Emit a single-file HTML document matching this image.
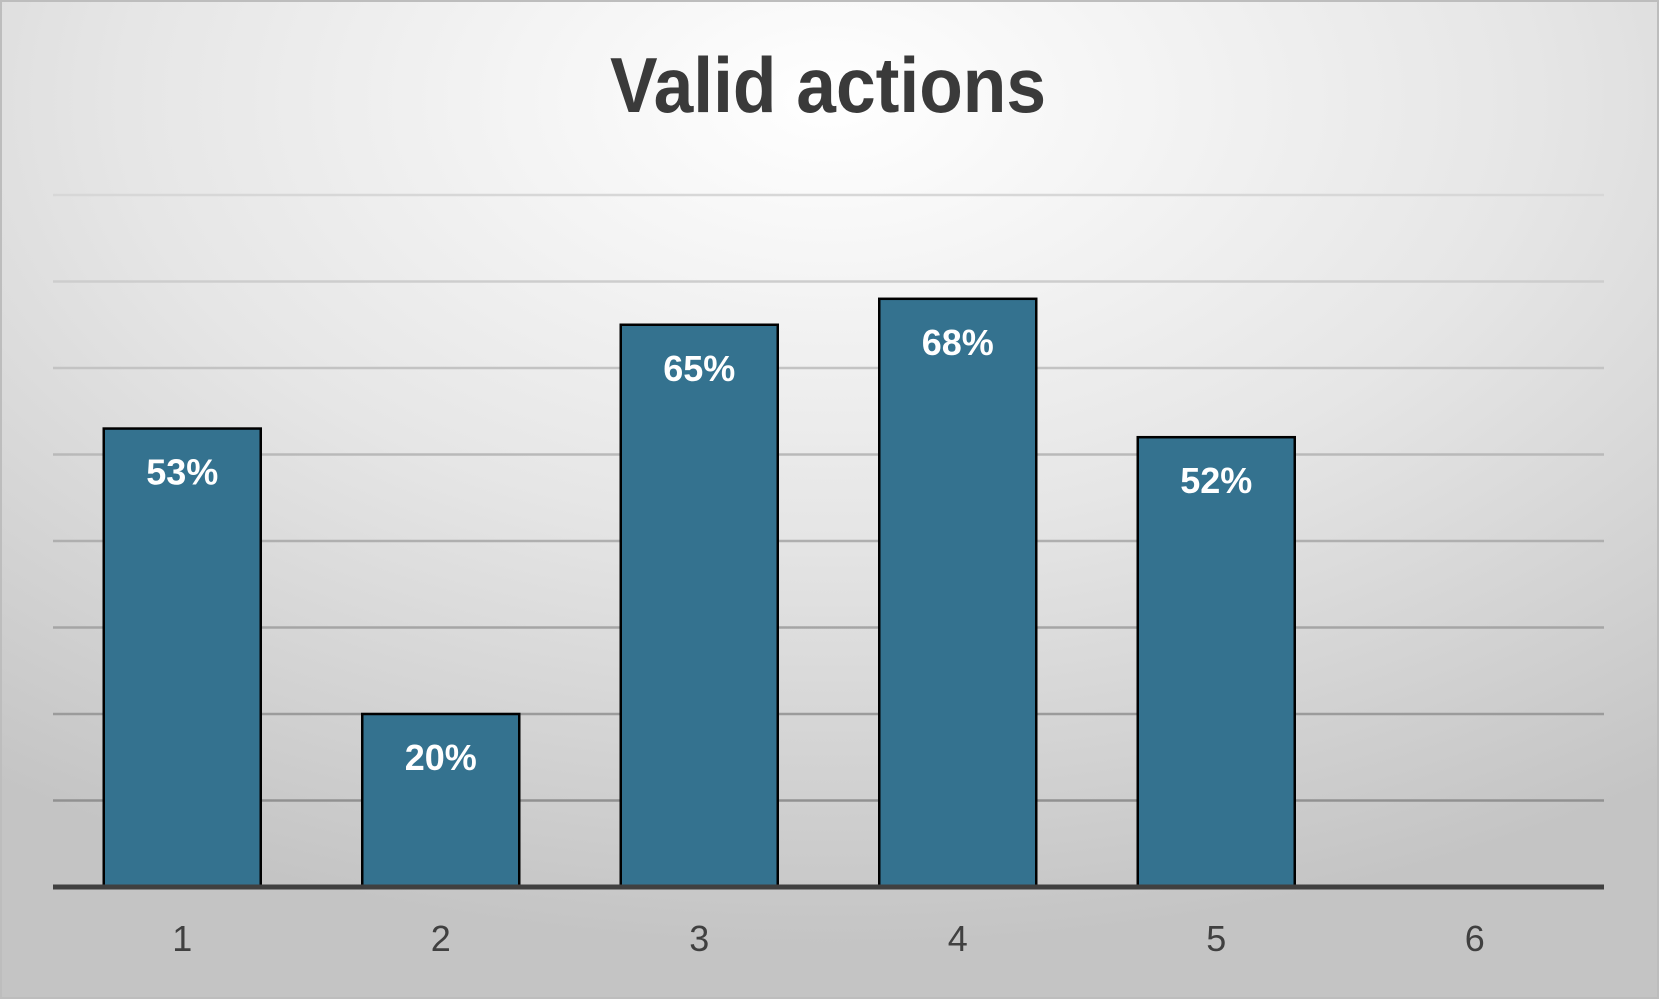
<!DOCTYPE html>
<html><head><meta charset="utf-8"><style>
html,body{margin:0;padding:0;width:1659px;height:999px;overflow:hidden;background:#fff}
svg{display:block}
</style></head><body>
<svg width="1659" height="999" viewBox="0 0 1659 999">
<defs>
<radialGradient id="bg" cx="50%" cy="10%" r="85%" fx="50%" fy="10%">
<stop offset="0" stop-color="#ffffff"/><stop offset="0.5" stop-color="#e6e6e6"/><stop offset="1" stop-color="#c4c4c4"/>
</radialGradient>
</defs>
<rect x="1" y="1" width="1657" height="997" fill="url(#bg)" stroke="#bdbdbd" stroke-width="2"/>
<text x="828" y="112" text-anchor="middle" font-family="'Liberation Sans Narrow','Liberation Sans',sans-serif" font-weight="bold" font-size="78" fill="#3a3a3a" textLength="436" lengthAdjust="spacingAndGlyphs">Valid actions</text>
<g id="grid"></g>
<g id="bars"></g>
<g id="xlabels"></g>
</svg>
<script>
const categories = ["1","2","3","4","5","6"];
const values = [53, 20, 65, 68, 52, null];
const valueLabels = ["53%","20%","65%","68%","52%",""];
const gridTicks = [10,20,30,40,50,60,70,80];

const NS="http://www.w3.org/2000/svg";
const left=53,right=1604,base=887,top80=195;
const yScale=v=>base-(v/80)*(base-top80);
const band=(right-left)/categories.length;
const xCenter=i=>left+band*(i+0.5);
const bw=157;
const g=document.getElementById('grid'),b=document.getElementById('bars'),xl=document.getElementById('xlabels');
function mk(t,a){const e=document.createElementNS(NS,t);for(const k in a)e.setAttribute(k,a[k]);return e;}
gridTicks.forEach((t,i)=>{
  const y=yScale(t);
  const shade=Math.round(215-(80-t)*1.0);
  const l=mk('line',{x1:left,x2:right,y1:y,y2:y,stroke:`rgb(${shade},${shade},${shade})`,'stroke-width':2.5});
  
  
  g.appendChild(l);
});
values.forEach((v,i)=>{
  if(v==null)return;
  const x=xCenter(i)-bw/2,y=yScale(v);
  const r=mk('rect',{x:x,y:y,width:bw,height:base-y,fill:'#34728f',stroke:'#000','stroke-width':2.5});
  
  
  b.appendChild(r);
  const t=mk('text',{x:xCenter(i),y:y+56,'text-anchor':'middle','font-family':"'Liberation Sans Narrow','Liberation Sans',sans-serif",'font-weight':'bold','font-size':36,fill:'#fff'});
  t.textContent=valueLabels[i];
  
  
  b.appendChild(t);
});
const ax=mk('line',{x1:left,x2:right,y1:base,y2:base,stroke:'#404040','stroke-width':5});


b.appendChild(ax);
categories.forEach((c,i)=>{
  const t=mk('text',{x:xCenter(i),y:951,'text-anchor':'middle','font-family':"'Liberation Sans',sans-serif",'font-size':36,fill:'#404040'});
  t.textContent=c;
  
  
  xl.appendChild(t);
});
</script>
</body></html>
